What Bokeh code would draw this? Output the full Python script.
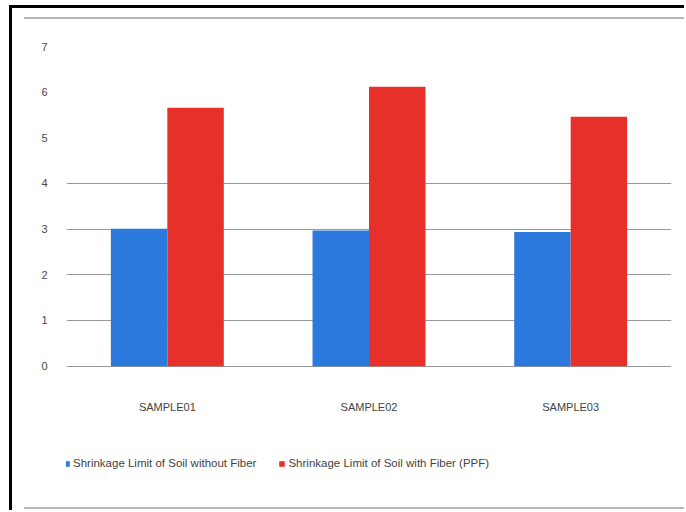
from bokeh.plotting import figure
from bokeh.layouts import column
from bokeh.models import ColumnDataSource, FixedTicker, Legend, LegendItem, Range1d
from bokeh.transform import dodge
from bokeh.embed import file_html
from bokeh.resources import INLINE

categories = ["SAMPLE01", "SAMPLE02", "SAMPLE03"]
without_fiber = [3.01, 2.97, 2.94]
with_fiber = [5.66, 6.12, 5.46]
y_ticks = [0, 1, 2, 3, 4, 5, 6, 7]
grid_ticks = [0, 1, 2, 3, 4]
series_names = ["Shrinkage Limit of Soil without Fiber", "Shrinkage Limit of Soil with Fiber (PPF)"]

BLUE = "#2B79DC"
RED = "#E8302A"
FONT = "Liberation Sans"

src = ColumnDataSource(dict(cat=categories, wo=without_fiber, wi=with_fiber))

p = figure(x_range=categories, y_range=(-0.03, 7),
           frame_width=605, frame_height=321,
           output_backend="svg", toolbar_location=None,
           min_border_left=66, min_border_right=13, min_border_top=46, min_border_bottom=60)
p.border_fill_color = None
p.outline_line_color = None
p.x_range.range_padding = 0

r1 = p.vbar(x=dodge("cat", -0.14, range=p.x_range), top="wo", width=0.28, source=src,
            fill_color=BLUE, line_color=None)
r2 = p.vbar(x=dodge("cat", 0.14, range=p.x_range), top="wi", width=0.28, source=src,
            fill_color=RED, line_color=None)

p.xgrid.grid_line_color = None
p.ygrid.ticker = FixedTicker(ticks=grid_ticks)
p.ygrid.grid_line_color = "#9a9a9a"
p.ygrid.grid_line_width = 1
p.ygrid.level = "underlay"

p.yaxis.ticker = FixedTicker(ticks=y_ticks)
p.yaxis.axis_line_color = None
p.yaxis.major_tick_line_color = None
p.yaxis.minor_tick_line_color = None
p.yaxis.major_label_standoff = 13
p.yaxis.major_label_text_font = FONT
p.yaxis.major_label_text_font_size = "11px"
p.yaxis.major_label_text_color = "#4a4a4a"

p.xaxis.axis_line_color = None
p.xaxis.major_tick_line_color = None
p.xaxis.major_label_standoff = 27
p.xaxis.major_label_text_font = FONT
p.xaxis.major_label_text_font_size = "11px"
p.xaxis.major_label_text_color = "#444444"

# legend strip below the chart (its zero-width bars draw nothing, only feed the legend)
q = figure(width=684, height=83, x_range=categories, y_range=Range1d(-200, -100),
           output_backend="svg", toolbar_location=None,
           min_border_left=0, min_border_right=0, min_border_top=0, min_border_bottom=0)
q.axis.visible = False
q.grid.grid_line_color = None
q.outline_line_color = None
q.border_fill_color = None
q.background_fill_color = None
l1 = q.vbar(x="cat", top="wo", width=0, source=src, fill_color=BLUE, line_color=None)
l2 = q.vbar(x="cat", top="wi", width=0, source=src, fill_color=RED, line_color=None)

legend = Legend(items=[LegendItem(label=series_names[0], renderers=[l1]),
                       LegendItem(label=series_names[1], renderers=[l2])],
                orientation="horizontal", location=(-3, 41),
                label_text_font=FONT, label_text_font_size="11.5px", label_text_color="#444444",
                glyph_width=7, glyph_height=7, label_standoff=3, spacing=22,
                border_line_color=None, background_fill_alpha=0, padding=0, margin=0)
q.add_layout(legend, "center")

layout = column(p, q, spacing=0)
layout.styles = {
    "background": ("linear-gradient(#000,#000) 9px 5px / 3px 100% no-repeat, "
                   "linear-gradient(#000,#000) 9px 5px / 100% 3px no-repeat, "
                   "linear-gradient(#b8b8b8,#b8b8b8) 24px 17px / 100% 2px no-repeat, "
                   "linear-gradient(#b8b8b8,#b8b8b8) 24px 507px / 100% 2px no-repeat, #ffffff")
}

open("out.html", "w").write(file_html(layout, INLINE))
